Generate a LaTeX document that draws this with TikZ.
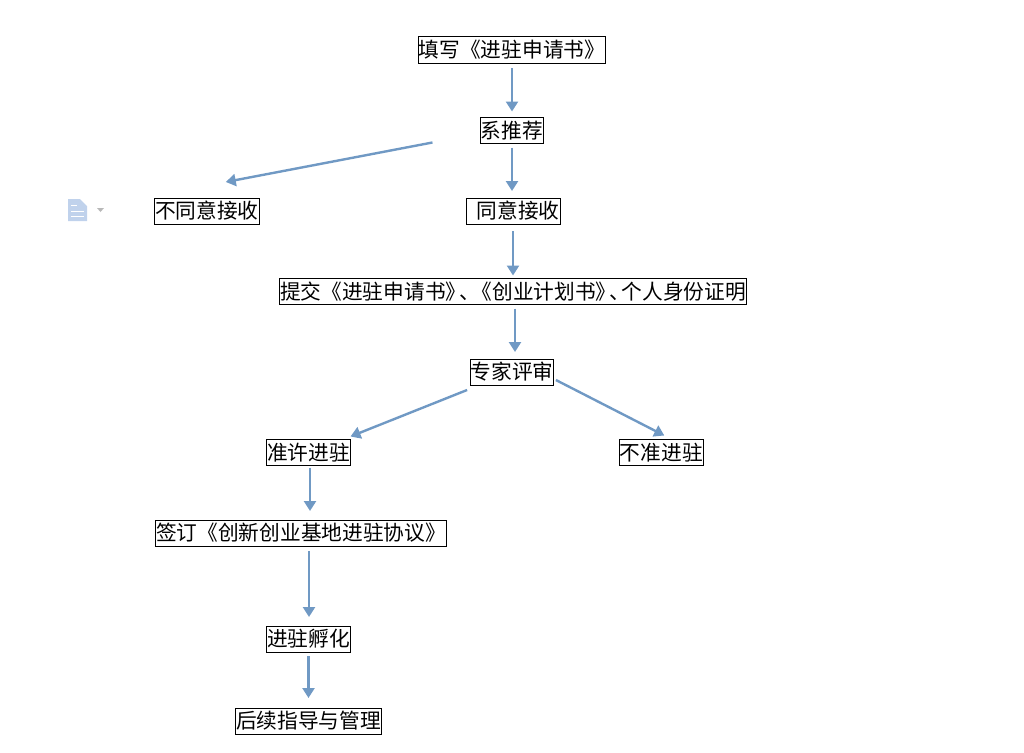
\documentclass[tikz,border=0pt]{standalone}
\usepackage{fontspec}
\newfontfamily\cjk{Noto Sans CJK SC}
\usetikzlibrary{arrows.meta,positioning}
\definecolor{flowblue}{HTML}{7099C4}
\definecolor{iconblue}{HTML}{C0D2EC}
\definecolor{icongray}{HTML}{B8B8B8}
\newcommand{\tightdun}{\hspace{-.35em}、\hspace{-.4em}}
\begin{document}
\begin{tikzpicture}[x=1pt,y=1pt,node distance=54.5pt,
 card/.style={draw=black,line width=1pt,outer sep=0pt,inner xsep=0.5pt,inner ysep=0pt,minimum height=26pt,font=\fontsize{20.7}{24}\cjk},
 flow/.style={draw=flowblue,line width=2.4pt,-{Triangle[length=10pt,width=12pt]}}]
\useasboundingbox (0,0) rectangle (1024,-752);
\node[card] (fill) at (512,-50) {填写《进驻申请书》};
\node[card,below=of fill] (dept) {系推荐};
\node[card,below=of dept,xshift=1pt,minimum width=94pt] (agree) {\hspace{10pt}同意接收};
\node[card,left=207pt of agree] (refuse) {不同意接收};
\node[card,below=of agree] (submit) {提交《进驻申请书》\tightdun《创业计划书》\tightdun 个人身份证明};
\node[card,below=of submit,xshift=-1pt] (review) {专家评审};
\node[card,below=of review,xshift=-203.5pt] (pass) {准许进驻};
\node[card,right=269pt of pass] (fail) {不准进驻};
\node[card,below=of pass,xshift=-7.5pt] (sign) {签订《创新创业基地进驻协议》};
\node[card,below=80pt of sign,xshift=7.5pt] (incubate) {进驻孵化};
\node[card,below=56pt of incubate] (guide) {后续指导与管理};
\draw[flow] ([yshift=-5pt]fill.south) -- ([yshift=6pt]dept.north);
\draw[flow] ([yshift=-4pt]dept.south) -- ([xshift=-1pt,yshift=7pt]agree.north);
\draw[flow] ([xshift=-48pt,yshift=1pt]dept.south west) -- ([xshift=19pt,yshift=16pt]refuse.north);
\draw[flow] ([yshift=-7pt]agree.south) -- ([yshift=3pt]submit.north);
\draw[flow] ([xshift=2pt,yshift=-4pt]submit.south) -- ([xshift=3pt,yshift=7pt]review.north);
\draw[flow] ([xshift=-3pt,yshift=-5pt]review.south west) -- ([xshift=42pt,yshift=3pt]pass.north);
\draw[flow] ([xshift=2pt,yshift=5pt]review.south east) -- ([xshift=3pt,yshift=4pt]fail.north);
\draw[flow] ([xshift=1.5pt,yshift=-2pt]pass.south) -- ([xshift=9pt,yshift=9pt]sign.north);
\draw[flow] ([xshift=8pt,yshift=-5pt]sign.south) -- ([xshift=8pt,yshift=9pt]sign.south |- incubate.north);
\draw[flow] ([yshift=-4pt]incubate.south) -- ([yshift=10pt]guide.north);
\fill[iconblue] (68,-199) -- (80,-199) -- (87,-206) -- (87,-221) -- (68,-221) -- cycle;
\draw[white,line width=1pt] (71,-205) -- (77,-205) (71,-211) -- (84,-211) (71,-216) -- (84,-216);
\fill[icongray] (97,-208) -- (104,-208) -- (100.5,-212) -- cycle;
\end{tikzpicture}
\end{document}
